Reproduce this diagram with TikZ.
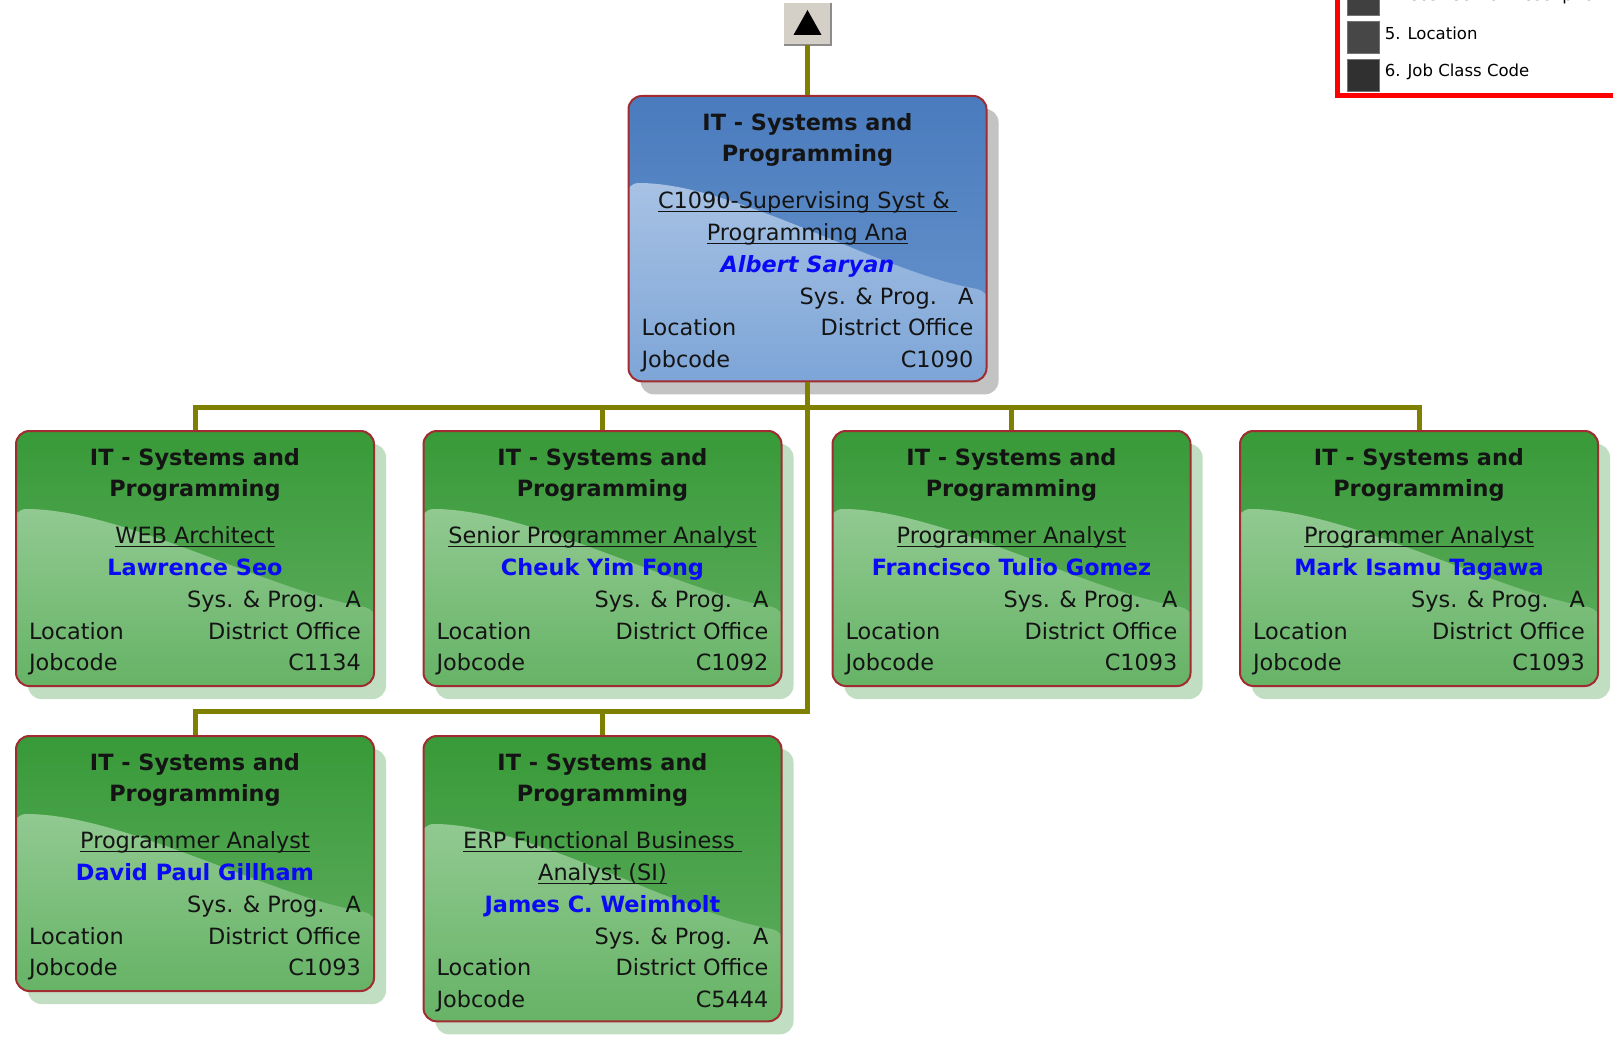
\documentclass[tikz,border=0pt]{standalone}
\usepackage{fontspec}
\setmainfont{DejaVu Sans}
\usetikzlibrary{positioning,shadows}

\definecolor{gtop}{HTML}{389A38}
\definecolor{gbot}{HTML}{62AE62}
\definecolor{gwtop}{HTML}{A4D3A4}
\definecolor{gwbot}{HTML}{66B366}
\definecolor{gshadow}{HTML}{C2DEC2}
\definecolor{btop}{HTML}{4A7BBD}
\definecolor{bbot}{HTML}{6A96CE}
\definecolor{bwtop}{HTML}{B9CEE9}
\definecolor{bwbot}{HTML}{7DA5D7}
\definecolor{bshadow}{HTML}{C3C3C3}
\definecolor{unitborder}{HTML}{A02C32}
\definecolor{lineolive}{HTML}{808000}
\definecolor{nameblue}{HTML}{0A0AF5}
\definecolor{btngray}{HTML}{D4D0C8}
\definecolor{keyred}{HTML}{FF0000}

\newcommand{\jobline}[1]{\leavevmode\setbox0\hbox{#1}\rlap{\rule[-3pt]{\wd0}{1.1pt}}\box0}
\newcommand{\person}[1]{\leavevmode{\color{nameblue}\bfseries #1}}
\newcommand{\personit}[1]{\leavevmode{\color{nameblue}\bfseries\itshape #1}}
\newcommand{\unitcard}[4]{\parbox[t][#4][t]{249pt}{\centering
    \fontsize{16.8pt}{23.9pt}\selectfont\vspace*{12.75pt}%
    {\bfseries IT - Systems and\\Programming\\[11pt]}%
    #1\\
    #2\\
    \leavevmode\hbox to\hsize{\hfill Sys. \& Prog.\hspace{16pt}A}\\
    \leavevmode\hbox to\hsize{Location\hfill District Office}\\
    \leavevmode\hbox to\hsize{Jobcode\hfill #3}}}

\begin{document}
\begin{tikzpicture}[x=0.75pt, y=-0.75pt,
        orgunit/.style={draw=unitborder, line width=1.5pt, rounded corners=10pt,
            inner xsep=9.75pt, inner ysep=0pt, anchor=north, text=black!92},
        unitwave/.style n args={4}{path picture={\shade[top color=#1, bottom color=#2]
            ([shift={(-3,#3)}]path picture bounding box.north west) .. controls +(110,0) and +(-108,-18) ..
            ([shift={(3,#4)}]path picture bounding box.north east) |- (path picture bounding box.south west) -- cycle;}},
        greenunit/.style 2 args={orgunit, top color=gtop, bottom color=gbot,
            drop shadow={shadow xshift=9pt, shadow yshift=-9.75pt, fill=gshadow, opacity=1},
            unitwave={gwtop}{gwbot}{#1}{#2}},
        blueunit/.style 2 args={orgunit, top color=btop, bottom color=bbot,
            drop shadow={shadow xshift=9pt, shadow yshift=-9.75pt, fill=bshadow, opacity=1},
            unitwave={bwtop}{bwbot}{#1}{#2}},
        orgline/.style={draw=lineolive, line width=3.75pt},
        keybox/.style={minimum size=24pt, inner sep=0pt, draw=black!55, line width=0.75pt},
        keytext/.style={font=\fontsize{12.4pt}{14pt}\selectfont, inner sep=0pt}]
    \path[use as bounding box, fill=white] (0,0) rectangle (1613,1037);

    \node[fill=btngray, minimum width=35.25pt, minimum height=31.5pt, inner sep=0pt] (up) at (807.5,24) {};
    \draw[black!45, line width=1.5pt] (up.north east) |- (up.south west);
    \fill ([shift={(0,-14)}]up.center) -- ([shift={(14,11)}]up.center) -- ([shift={(-14,11)}]up.center) -- cycle;

    \node[blueunit={87}{195}] (saryan) at (807.5,95)
        {\unitcard{\jobline{C1090-Supervising Syst \& }\\\jobline{Programming Ana}}{\personit{Albert Saryan}}{C1090}{214pt}};
    \foreach \n/\x/\y/\job/\who/\code in {seo/195/430/WEB Architect/Lawrence Seo/C1134,
            fong/602.5/430/Senior Programmer Analyst/Cheuk Yim Fong/C1092,
            gomez/1011.5/430/Programmer Analyst/Francisco Tulio Gomez/C1093,
            tagawa/1419/430/Programmer Analyst/Mark Isamu Tagawa/C1093,
            gillham/195/735/Programmer Analyst/David Paul Gillham/C1093}
        \node[greenunit={78}{178}] (\n) at (\x,\y) {\unitcard{\jobline{\job}}{\person{\who}}{\code}{191.25pt}};
    \node[greenunit={88}{195}] (weimholt) at (602.5,735)
        {\unitcard{\jobline{ERP Functional Business }\\\jobline{Analyst (SI)}}{\person{James C. Weimholt}}{C5444}{214pt}};

    \draw[orgline] (up) -- (saryan);
    \foreach \n in {seo,fong,gomez,tagawa}
        \draw[orgline] (saryan.south) -- ++(0,25) -| (\n.north);
    \foreach \n in {gillham,weimholt}
        \draw[orgline] (saryan.south) -- ++(0,329) -| (\n.north);

    \draw[keyred, line width=3.75pt] (1337.5,-10) |- (1630,96);
    \foreach \i/\txt/\col in {0/4. Cost Center Description/black!75, 1/5. Location/black!72, 2/6. Job Class Code/black!81} {
        \node[keybox, fill=\col] (key\i) at (1363,{-0.5+38*\i}) {};
        \node[keytext, right=3.75pt of key\i, yshift=3pt] (keytxt\i) {\txt};
    }
\end{tikzpicture}
\end{document}
